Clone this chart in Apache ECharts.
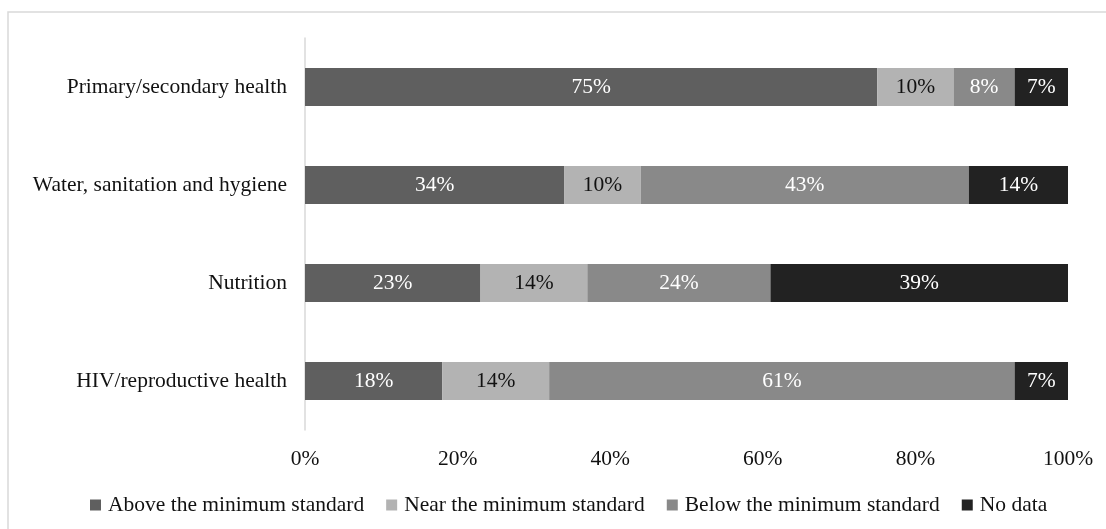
<!DOCTYPE html>
<html>
<head>
<meta charset="utf-8">
<style>
  html, body { margin: 0; padding: 0; background: #fff; }
  #chart { width: 1106px; height: 529px; }
</style>
<script src="https://cdn.jsdelivr.net/npm/echarts@6/dist/echarts.min.js"></script>
</head>
<body>
<div id="chart"></div>
<script>
// Sectors, listed bottom to top as the category axis draws them
const categories = [
  'HIV/reproductive health',
  'Nutrition',
  'Water, sanitation and hygiene',
  'Primary/secondary health'
];

// Share of each sector in each standard band (%)
const aboveStandard = [18, 23, 34, 75];
const nearStandard = [14, 14, 10, 10];
const belowStandard = [61, 24, 43, 8];
const noData = [7, 39, 14, 7];

const xTicks = [0, 20, 40, 60, 80, 100];

const seriesDefs = [
  { name: 'Above the minimum standard', data: aboveStandard, color: '#5f5f5f', text: '#ffffff' },
  { name: 'Near the minimum standard', data: nearStandard, color: '#b3b3b3', text: '#111111' },
  { name: 'Below the minimum standard', data: belowStandard, color: '#898989', text: '#ffffff' },
  { name: 'No data', data: noData, color: '#222222', text: '#ffffff' }
];

const font = 'Liberation Serif, Times New Roman, serif';
const fontSize = 21.5;

const chart = echarts.init(document.getElementById('chart'), null, { renderer: 'canvas' });

chart.setOption({
  animation: false,
  backgroundColor: '#ffffff',
  textStyle: { fontFamily: font },
  graphic: [{
    type: 'rect',
    shape: { x: 8, y: 12, width: 1120, height: 540 },
    style: { fill: 'none', stroke: '#d9d9d9', lineWidth: 1.5 },
    silent: true,
    z: -1
  }],
  grid: { left: 305, right: 38, top: 38, bottom: 99, containLabel: false },
  legend: {
    bottom: 8,
    left: 85,
    icon: 'rect',
    itemWidth: 11,
    itemHeight: 11,
    itemGap: 22,
    textStyle: { fontFamily: font, fontSize: fontSize, color: '#111111', padding: [0, 0, 0, 2] },
    data: seriesDefs.map(s => s.name)
  },
  xAxis: {
    type: 'value',
    min: xTicks[0],
    max: xTicks[xTicks.length - 1],
    interval: xTicks[1] - xTicks[0],
    axisLine: { show: false },
    axisTick: { show: false },
    splitLine: { show: false },
    axisLabel: {
      formatter: v => v + '%',
      fontFamily: font,
      fontSize: fontSize,
      color: '#111111',
      margin: 18
    }
  },
  yAxis: {
    type: 'category',
    data: categories,
    axisLine: { show: true, lineStyle: { color: '#d9d9d9', width: 1.5 } },
    axisTick: { show: false },
    axisLabel: {
      fontFamily: font,
      fontSize: fontSize,
      color: '#111111',
      margin: 18
    }
  },
  series: seriesDefs.map(s => ({
    name: s.name,
    type: 'bar',
    stack: 'total',
    barWidth: 38,
    clip: true,
    data: s.data,
    itemStyle: { color: s.color },
    label: {
      show: true,
      position: 'inside',
      formatter: p => p.value + '%',
      fontFamily: font,
      fontSize: fontSize,
      color: s.text
    }
  }))
});
</script>
</body>
</html>
